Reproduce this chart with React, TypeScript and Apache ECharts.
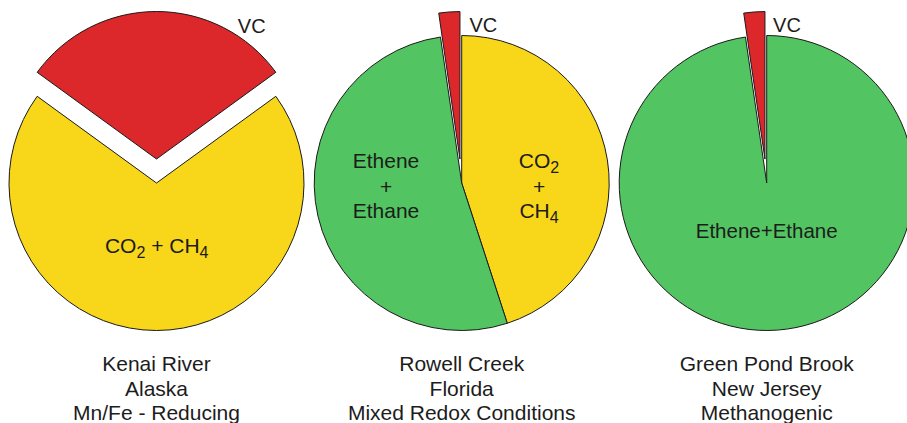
import React, { useEffect, useRef } from 'react';
import * as echarts from 'echarts';

// ---- data ----
const sites = ['Kenai River', 'Rowell Creek', 'Green Pond Brook'];
const states = ['Alaska', 'Florida', 'New Jersey'];
const conditions = ['Mn/Fe - Reducing', 'Mixed Redox Conditions', 'Methanogenic'];

// slice order clockwise: CO2 + CH4, Ethene + Ethane, VC
const categories = ['CO2 + CH4', 'Ethene + Ethane', 'VC'];
const kenaiValues = [70, 0, 30];
const rowellValues = [45, 52.7, 2.3];
const greenPondValues = [0, 97.7, 2.3];
const allValues = [kenaiValues, rowellValues, greenPondValues];

// ---- style ----
const COLORS: Record<string, string> = {
  'CO2 + CH4': '#F8D619',
  'Ethene + Ethane': '#52C461',
  VC: '#DC282B',
};
const CENTERS_X = [156.5, 461.7, 766.7];
const CENTER_Y = 183;
const RADIUS = 147.5;
const VC_CENTERED = [true, false, false];
const FONT = '"Liberation Sans", Arial, Helvetica, sans-serif';
const TXT = '#1c1c1c';

const rich = {
  a: { fontSize: 21, fontFamily: FONT, fill: TXT, color: TXT },
  s: { fontSize: 16, fontFamily: FONT, fill: TXT, color: TXT, padding: [14, 0, 0, 0] },
};

function txt(text: string, x: number, y: number, size = 20, extra: any = {}) {
  return {
    type: 'text',
    x,
    y,
    z: 100,
    silent: true,
    style: {
      text,
      fill: TXT,
      fontSize: size,
      fontFamily: FONT,
      align: 'center',
      verticalAlign: 'middle',
      ...extra,
    },
  };
}

function richTxt(text: string, x: number, y: number) {
  return {
    type: 'text',
    x,
    y,
    z: 100,
    silent: true,
    style: {
      text,
      fill: TXT,
      fontSize: 21,
      fontFamily: FONT,
      align: 'center',
      verticalAlign: 'middle',
      rich,
    },
  };
}

export default function App() {
  const ref = useRef<HTMLDivElement>(null);
  useEffect(() => {
    document.body.style.margin = '0';
    const chart = echarts.init(ref.current!, undefined, { renderer: 'svg' });

    const series = allValues.map((vals, i) => {
      const total = vals.reduce((a, b) => a + b, 0);
      const vcIdx = categories.indexOf('VC');
      const vcAngle = (vals[vcIdx] / total) * 360;
      const startAngle = VC_CENTERED[i] ? 90 - vcAngle / 2 : 90;
      const data = categories
        .map((name, k) => ({
          name,
          value: vals[k],
          selected: name === 'VC',
          itemStyle: { color: COLORS[name] },
        }))
        .filter((d) => d.value > 0);
      return {
        type: 'pie',
        z: 2,
        center: [CENTERS_X[i], CENTER_Y],
        radius: [0, RADIUS],
        startAngle,
        clockwise: true,
        selectedMode: 'multiple',
        selectedOffset: 24,
        avoidLabelOverlap: false,
        label: { show: false },
        labelLine: { show: false },
        itemStyle: { borderColor: '#1a1a1a', borderWidth: 1 },
        emphasis: { disabled: true },
        select: { itemStyle: { borderColor: '#1a1a1a', borderWidth: 1 } },
        data,
      };
    });

    const graphic: any[] = [
      // VC labels
      txt('VC', 251.7, 26, 20),
      txt('VC', 483.3, 25, 20),
      txt('VC', 787, 25, 20),
      // Kenai
      richTxt('{a|CO}{s|2}{a| + CH}{s|4}', 156.7, 245),
      // Rowell
      txt('Ethene', 386, 160, 21),
      txt('+', 386, 186.5, 21),
      txt('Ethane', 386, 210, 21),
      richTxt('{a|CO}{s|2}', 539, 160),
      txt('+', 539, 186.5, 21),
      richTxt('{a|CH}{s|4}', 539, 210),
      // Green Pond
      txt('Ethene+Ethane', 766.7, 230, 20.5),
    ];
    sites.forEach((s, i) => {
      graphic.push(
        txt(`${s}\n${states[i]}\n${conditions[i]}`, CENTERS_X[i], 388, 21, { lineHeight: 24.5 })
      );
    });

    chart.setOption({
      animation: false,
      backgroundColor: '#ffffff',
      tooltip: { show: false },
      series,
      graphic: { elements: graphic },
    });
    return () => chart.dispose();
  }, []);
  return <div ref={ref} style={{ width: 907, height: 423 }} />;
}
